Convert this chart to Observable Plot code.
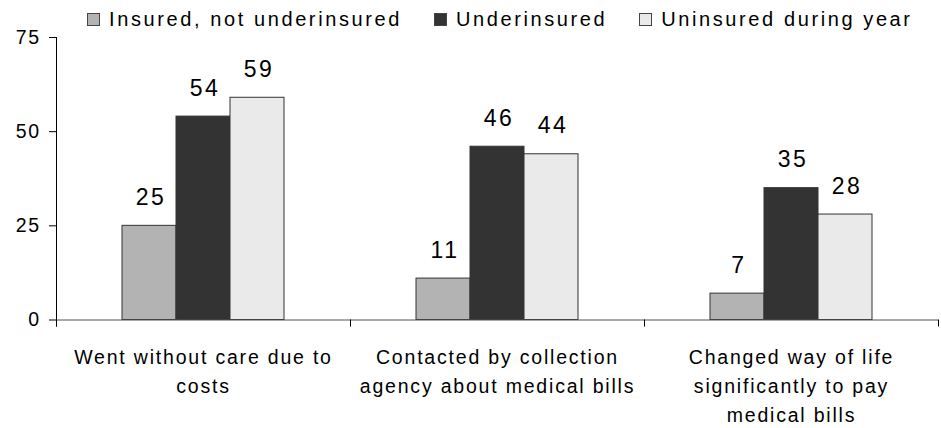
<!DOCTYPE html>
<html>
<head>
<meta charset="utf-8">
<script src="https://cdn.jsdelivr.net/npm/d3@7"></script>
<script src="https://cdn.jsdelivr.net/npm/@observablehq/plot@0.6"></script>
<style>
  html, body { margin: 0; padding: 0; background: #fff; }
  body { width: 941px; height: 428px; overflow: hidden; font-family: "Liberation Sans", Arial, sans-serif; }
  #legend { position: relative; height: 20px; }
  #legend .row { position: absolute; top: 4px; left: 0; padding-left: 87px; white-space: nowrap; line-height: 30px; font-size: 20px; letter-spacing: 2.6px; color: #000; }
  #legend .item { display: inline-block; margin-right: 32px; }
  #legend .sw { display: inline-block; width: 13px; height: 13px; box-sizing: border-box; border: 1px solid #444; margin-right: 9px; vertical-align: baseline; }
  #chart g[aria-label="fx-axis tick label"] text { letter-spacing: 1.8px; }
  #chart g[aria-label="y-axis tick label"] text { letter-spacing: 1.5px; }
  #chart g[aria-label="text"] text { letter-spacing: 2.5px; }
</style>
</head>
<body>
<div id="legend"></div>
<div id="chart"></div>
<script>
// ---- data ----
const categories = [
  "Went without care due to costs",
  "Contacted by collection agency about medical bills",
  "Changed way of life significantly to pay medical bills"
];
const categoryLabels = [
  "Went without care due to\ncosts",
  "Contacted by collection\nagency about medical bills",
  "Changed way of life\nsignificantly to pay\nmedical bills"
];
const series = ["Insured, not underinsured", "Underinsured", "Uninsured during year"];
const insuredValues = [25, 11, 7];
const underinsuredValues = [54, 46, 35];
const uninsuredValues = [59, 44, 28];
const seriesColors = ["#b3b3b3", "#333333", "#eaeaea"];
const yTicks = [0, 25, 50, 75];

const seriesValues = [insuredValues, underinsuredValues, uninsuredValues];
const data = [];
categories.forEach((c, ci) => {
  series.forEach((s, si) => {
    data.push({category: c, series: s, value: seriesValues[si][ci]});
  });
});

// ---- legend ----
const row = d3.select("#legend").append("div").attr("class", "row");
series.forEach((s, i) => {
  const it = row.append("span").attr("class", "item");
  it.append("span").attr("class", "sw").style("background", seriesColors[i]);
  it.append("span").text(s);
});

// ---- chart ----
const W = 941, H = 408;
const mTop = 17, mBottom = 108.5;
const plotH = H - mTop - mBottom;
const labelOf = new Map(categories.map((c, i) => [c, categoryLabels[i]]));

const chart = Plot.plot({
  width: W,
  height: H,
  marginTop: mTop,
  marginBottom: mBottom,
  marginLeft: 55,
  marginRight: 2,
  style: {fontFamily: "'Liberation Sans', Arial, sans-serif", background: "transparent", color: "#000"},
  fx: {domain: categories, padding: 0, label: null},
  x: {domain: series, paddingInner: 0, paddingOuter: 1.21, axis: null},
  y: {domain: [0, 75], label: null},
  color: {domain: series, range: seriesColors},
  marks: [
    Plot.barY(data, {fx: "category", x: "series", y: "value", fill: "series", stroke: "#333", strokeWidth: 1}),
    Plot.ruleY([0], {stroke: "#555"}),
    Plot.frame({anchor: "left", facetAnchor: "left", insetBottom: -6, stroke: "#000"}),
    Plot.frame({anchor: "left", insetTop: plotH, insetBottom: -6, stroke: "#000"}),
    Plot.frame({anchor: "right", facetAnchor: "right", insetTop: plotH, insetBottom: -6, stroke: "#000"}),
    Plot.text(data, {fx: "category", x: "series", y: "value", text: d => String(d.value), lineAnchor: "bottom", dy: -21, dx: 1.5, fontSize: 23, fill: "#000"}),
    Plot.axisY({ticks: yTicks, tickSize: 7, tickPadding: 9, fontSize: 19.5, label: null, stroke: "#000", fill: "#000"}),
    Plot.axisFx({anchor: "bottom", tickSize: 0, tickPadding: 23, fontSize: 19.5, lineHeight: 1.5, label: null, fill: "#000", tickFormat: d => labelOf.get(d)})
  ]
});
document.getElementById("chart").appendChild(chart);
</script>
</body>
</html>
